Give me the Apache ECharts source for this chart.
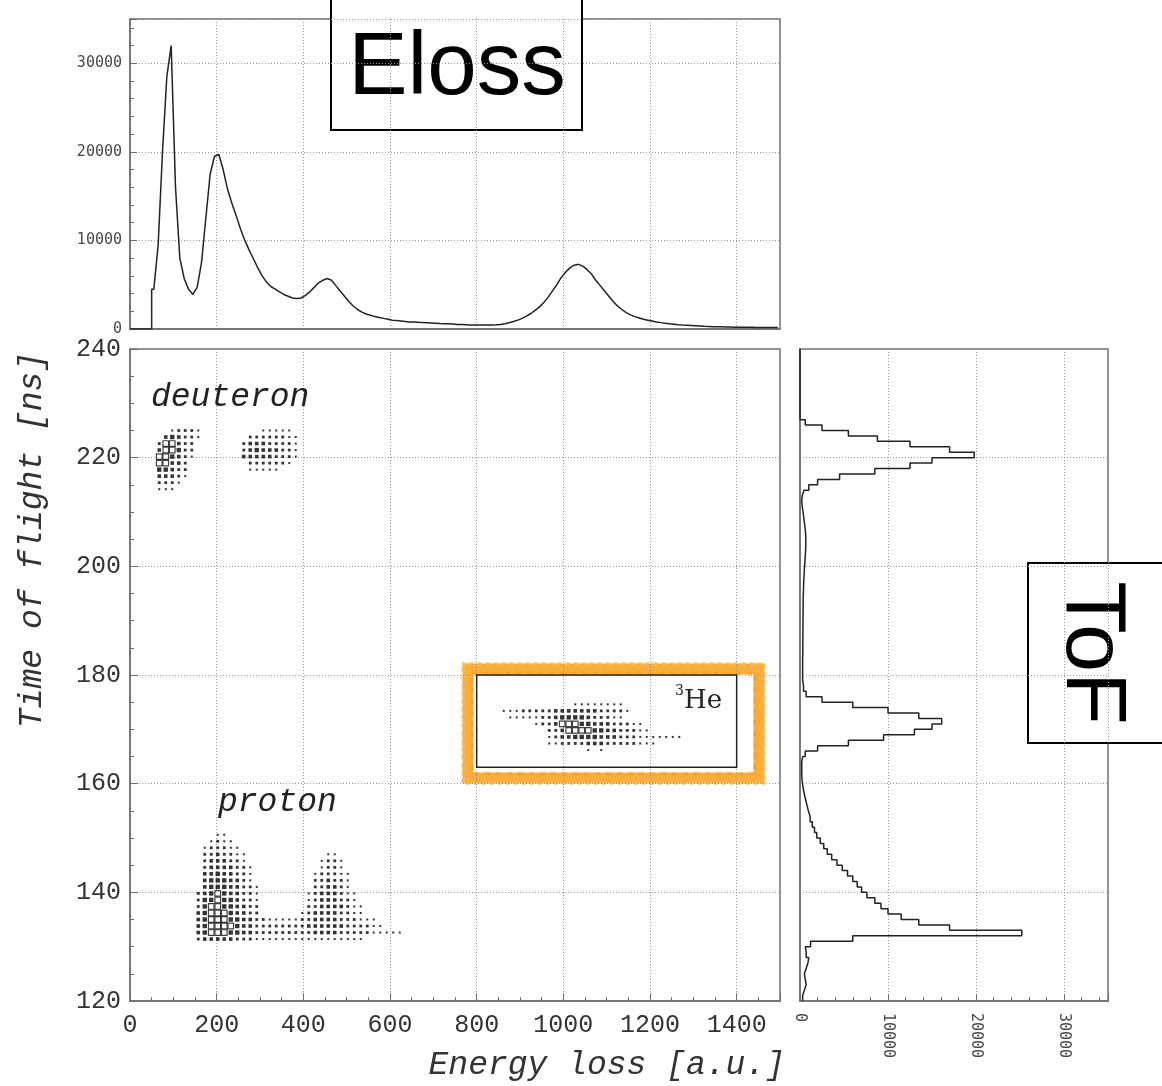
<!DOCTYPE html>
<html>
<head>
<meta charset="utf-8">
<script src="https://cdn.jsdelivr.net/npm/echarts@6/dist/echarts.min.js"></script>
<style>
  html, body { margin: 0; padding: 0; background: #fff; }
  #chart { width: 1162px; height: 1086px; }
</style>
</head>
<body>
<div id="chart"></div>
<script>
// ---- binning of the 2D ToF vs energy-loss histogram ----
const E_BIN = 15;        // energy-loss bin width [a.u.]
const TOF_BIN = 1.2;     // time-of-flight bin width [ns]
const TOF_MIN = 120;

// ---- axis ranges / ticks ----
const energyRange = [0, 1500];
const energyStep = 200;
const tofRange = [120, 240];
const tofStep = 20;
const countRange = [0, 35000];
const countStep = 10000;

// ---- energy-loss projection: 10 a.u. bins starting at 0 ----
const ELOSS_HIST_BIN = 10;
const elossCounts = [
  0, 0, 0, 0, 0, 4500, 9500, 20000, 28500, 32000,            // 0-99
  16000, 8000, 5700, 4500, 3900, 4700, 7500, 12500, 17500, 19500, // 100-199
  19700, 18000, 15800, 14200, 12800, 11300, 10000, 8900, 7900, 6900, // 200-299
  6000, 5300, 4800, 4500, 4200, 3900, 3700, 3500, 3450, 3500,  // 300-399
  3800, 4200, 4700, 5200, 5500, 5700, 5500, 4900, 4300, 3700,  // 400-499
  3100, 2600, 2200, 1900, 1700, 1550, 1400, 1300, 1200, 1100,  // 500-599
  1000, 950, 900, 850, 800, 800, 760, 720, 700, 680,           // 600-699
  650, 620, 600, 580, 560, 520, 500, 480, 460, 450,            // 700-799
  450, 440, 440, 460, 480, 520, 600, 700, 850, 1000,           // 800-899
  1200, 1450, 1750, 2100, 2500, 3000, 3600, 4300, 5000, 5800,  // 900-999
  6400, 6900, 7200, 7300, 7100, 6700, 6200, 5500, 4900, 4300,  // 1000-1099
  3700, 3100, 2600, 2200, 1850, 1600, 1400, 1250, 1100, 1000,  // 1100-1199
  900, 800, 720, 650, 590, 540, 490, 450, 420, 390,            // 1200-1299
  360, 330, 300, 280, 260, 250, 240, 230, 220, 210,            // 1300-1399
  200, 195, 190, 185, 180, 175, 170, 170, 170, 170             // 1400-1499
];

// ---- time-of-flight projection: 1 ns bins starting at 120 ns ----
const TOF_HIST_BIN = 1;
const tofCounts = [
  300, 500, 700, 600, 500, 700, 900, 1000, 700, 600,           // 120-129
  1200, 6000, 25200, 17000, 13500, 11500, 10000, 9200, 8500, 7600, // 130-139
  7000, 6500, 6000, 5400, 4800, 4200, 3600, 3100, 2700, 2300,  // 140-149
  1900, 1650, 1400, 1150, 950, 800, 650, 500, 380, 280,        // 150-159
  220, 200, 200, 200, 300, 600, 2000, 5500, 9500, 13000,       // 160-169
  15000, 16100, 13500, 10000, 6000, 2500, 700, 400, 300, 300,  // 170-179
  300, 300, 300, 320, 320, 320, 330, 330, 340, 340,            // 180-189
  350, 350, 360, 360, 380, 400, 420, 450, 480, 520,            // 190-199
  560, 600, 640, 660, 660, 640, 580, 500, 420, 350,            // 200-209
  250, 200, 250, 450, 1000, 2000, 4500, 8500, 12500, 15000,    // 210-219
  19800, 17000, 12500, 8800, 5500, 2500, 600, 0, 0, 0,         // 220-229
  0, 0, 0, 0, 0, 0, 0, 0, 0, 0                                 // 230-239
];

// ---- 2D cells: [ToF bin, first energy bin, occupancy levels per bin ('.' = empty)] ----
const deuteronRows = [
  [87, 6, '12221'],
  [86, 5, '343221'],
  [85, 4, '255322'],
  [84, 4, '355422'],
  [83, 4, '554321'],
  [82, 4, '55332'],
  [81, 4, '44322'],
  [80, 4, '33321'],
  [79, 4, '2221'],
  [78, 4, '111'],
  [87, 20, '11111'],
  [86, 18, '22222211'],
  [85, 17, '233322221'],
  [84, 17, '234333221'],
  [83, 17, '333332221'],
  [82, 18, '2222221'],
  [81, 18, '11111']
];

const protonRows = [
  [25, 13, '11'],
  [24, 12, '1211'],
  [23, 11, '122211'],
  [22, 11, '2232211'],
  [21, 11, '2333221'],
  [20, 11, '23333221'],
  [19, 11, '33433221'],
  [18, 11, '34443321'],
  [17, 11, '344433221'],
  [16, 10, '2345433221'],
  [15, 10, '2445443221'],
  [14, 10, '2455443322'],
  [13, 10, '3455543322'],
  [12, 10, '3455544332211111223333222111'],
  [11, 10, '34555543322222222333333222211'],
  [10, 10, '34555443322222222233332222211111'],
  [9, 10, '23333322211111111111111111'],
  [22, 30, '11'],
  [21, 29, '1221'],
  [20, 29, '1221'],
  [19, 28, '122211'],
  [18, 28, '223221'],
  [17, 28, '223321'],
  [16, 27, '12333211'],
  [15, 27, '12333221'],
  [14, 27, '223333211'],
  [13, 26, '1233332211']
];

const he3Rows = [
  [45, 68, '11111111'],
  [44, 57, '11122222333333322221'],
  [43, 58, '111112234444322211'],
  [42, 62, '12235554433322211'],
  [41, 64, '2235555443322211'],
  [40, 64, '123344443332221111111'],
  [39, 64, '11222233322222111'],
  [38, 70, '1.1']
];

// selection window drawn around the 3He group [a.u., ns]
const he3Window = { e: [800, 1400], tof: [163, 180] };

// ---- helpers ----
function toCells(rows) {
  const out = [];
  rows.forEach(([j, i0, levels]) => {
    for (let k = 0; k < levels.length; k++) {
      const c = levels[k];
      if (c === '.') continue;
      out.push([(i0 + k + 0.5) * E_BIN, TOF_MIN + (j + 0.5) * TOF_BIN, Number(c)]);
    }
  });
  return out;
}

// energy-loss projection drawn through the bin centres; empty leading bins stay on the axis
function centresAlongX(counts, width, start) {
  const pts = [[start, 0]];
  counts.forEach((v, k) => {
    if (v > 0 && k > 0 && counts[k - 1] === 0) pts.push([start + k * width, 0], [start + k * width, v]);
    pts.push([start + (k + 0.5) * width, v]);
  });
  return pts;
}

// ToF projection drawn as a step histogram along the vertical axis
function stepAlongY(counts, width, start) {
  const pts = [];
  counts.forEach((v, k) => {
    pts.push([v, start + k * width]);
    pts.push([v, start + (k + 1) * width]);
  });
  return pts;
}

const allCells = toCells(deuteronRows).concat(toCells(protonRows), toCells(he3Rows));
const filledCells = allCells.filter(c => c[2] < 5);
const boxCells = allCells.filter(c => c[2] >= 5);
const dotSize = [0, 2.0, 2.8, 3.6, 4.4, 5.6];

// ---- shared styles ----
const frameColor = '#6f6f6f';
const plain = v => String(v);
const gridLine = { show: true, lineStyle: { color: '#9a9a9a', width: 1, type: [1, 2] } };
const monoLabel = { fontFamily: 'Liberation Mono', fontSize: 25, color: '#333', formatter: plain };
const smallLabel = { fontFamily: 'DejaVu Sans Mono', fontSize: 15, color: '#4a4a4a', formatter: plain };

const chart = echarts.init(document.getElementById('chart'), null, { renderer: 'canvas' });

const option = {
  backgroundColor: '#fff',
  animation: false,
  grid: [
    { left: 130, top: 349, width: 650, height: 652, show: true, borderColor: frameColor, borderWidth: 1.5, outerBoundsMode: 'none' },
    { left: 130, top: 19, width: 650, height: 310, show: true, borderColor: frameColor, borderWidth: 1.5, outerBoundsMode: 'none' },
    { left: 800, top: 349, width: 308, height: 652, show: true, borderColor: frameColor, borderWidth: 1.5, outerBoundsMode: 'none' }
  ],
  xAxis: [
    {
      gridIndex: 0, type: 'value', min: energyRange[0], max: energyRange[1], interval: energyStep,
      axisLine: { show: true, lineStyle: { color: frameColor, width: 1.5 } },
      axisTick: { show: true, inside: true, length: 8, lineStyle: { color: frameColor } },
      minorTick: { show: true, splitNumber: 4, length: 4, lineStyle: { color: frameColor } },
      axisLabel: Object.assign({ margin: 12, showMaxLabel: false }, monoLabel),
      splitLine: gridLine
    },
    {
      gridIndex: 1, type: 'value', min: energyRange[0], max: energyRange[1], interval: energyStep,
      axisLine: { show: true, lineStyle: { color: frameColor, width: 1.5 } },
      axisTick: { show: false }, axisLabel: { show: false },
      splitLine: gridLine
    },
    {
      gridIndex: 2, type: 'value', min: countRange[0], max: countRange[1], interval: countStep,
      axisLine: { show: true, lineStyle: { color: frameColor, width: 1.5 } },
      axisTick: { show: true, inside: true, length: 7, lineStyle: { color: frameColor } },
      minorTick: { show: true, splitNumber: 5, length: 4, lineStyle: { color: frameColor } },
      axisLabel: Object.assign({ rotate: -90, margin: 12, showMaxLabel: false }, smallLabel),
      splitLine: gridLine
    }
  ],
  yAxis: [
    {
      gridIndex: 0, type: 'value', min: tofRange[0], max: tofRange[1], interval: tofStep,
      axisLine: { show: true, lineStyle: { color: frameColor, width: 1.5 } },
      axisTick: { show: true, inside: true, length: 8, lineStyle: { color: frameColor } },
      minorTick: { show: true, splitNumber: 4, length: 4, lineStyle: { color: frameColor } },
      axisLabel: Object.assign({ margin: 9 }, monoLabel),
      splitLine: gridLine
    },
    {
      gridIndex: 1, type: 'value', min: countRange[0], max: countRange[1], interval: countStep,
      axisLine: { show: true, lineStyle: { color: frameColor, width: 1.5 } },
      axisTick: { show: true, inside: true, length: 7, lineStyle: { color: frameColor } },
      minorTick: { show: true, splitNumber: 5, length: 4, lineStyle: { color: frameColor } },
      axisLabel: Object.assign({ margin: 8, showMaxLabel: false }, smallLabel),
      splitLine: gridLine
    },
    {
      gridIndex: 2, type: 'value', min: tofRange[0], max: tofRange[1], interval: tofStep,
      axisLine: { show: true, lineStyle: { color: frameColor, width: 1.5 } },
      axisTick: { show: false }, axisLabel: { show: false },
      splitLine: gridLine
    }
  ],
  series: [
    {
      name: 'cells', type: 'scatter', xAxisIndex: 0, yAxisIndex: 0,
      symbol: 'rect', symbolSize: v => dotSize[v[2]],
      itemStyle: { color: '#111', opacity: 0.85 },
      data: filledCells,
      markArea: {
        silent: true,
        itemStyle: { color: 'rgba(0,0,0,0)', borderColor: '#222', borderWidth: 1.5 },
        data: [[{ coord: [he3Window.e[0], he3Window.tof[1]] }, { coord: [he3Window.e[1], he3Window.tof[0]] }]]
      }
    },
    {
      name: 'dense cells', type: 'scatter', xAxisIndex: 0, yAxisIndex: 0,
      symbol: 'rect', symbolSize: v => dotSize[v[2]],
      itemStyle: { color: '#fff', borderColor: '#111', borderWidth: 1.2 },
      data: boxCells
    },
    {
      name: 'Eloss', type: 'line', xAxisIndex: 1, yAxisIndex: 1,
      showSymbol: false, lineStyle: { color: '#222', width: 1.5 },
      data: centresAlongX(elossCounts, ELOSS_HIST_BIN, 0)
    },
    {
      name: 'ToF', type: 'line', xAxisIndex: 2, yAxisIndex: 2,
      showSymbol: false, lineStyle: { color: '#222', width: 1.5 },
      data: stepAlongY(tofCounts, TOF_HIST_BIN, TOF_MIN)
    }
  ],
  graphic: [
    // axis titles
    {
      type: 'text', x: 785, y: 1065, z: 50,
      style: { text: 'Energy loss [a.u.]', fontFamily: 'Liberation Mono', fontStyle: 'italic', fontSize: 33, fill: '#333', align: 'right', verticalAlign: 'middle' }
    },
    {
      type: 'text', x: 32, y: 540, rotation: Math.PI / 2, z: 50,
      style: { text: 'Time of flight [ns]', fontFamily: 'Liberation Mono', fontStyle: 'italic', fontSize: 33, fill: '#333', align: 'center', verticalAlign: 'middle' }
    },
    // particle labels
    {
      type: 'text', x: 151, y: 397, z: 50,
      style: { text: 'deuteron', fontFamily: 'Liberation Mono', fontStyle: 'italic', fontSize: 33, fill: '#222', align: 'left', verticalAlign: 'middle' }
    },
    {
      type: 'text', x: 218, y: 802, z: 50,
      style: { text: 'proton', fontFamily: 'Liberation Mono', fontStyle: 'italic', fontSize: 33, fill: '#222', align: 'left', verticalAlign: 'middle' }
    },
    {
      type: 'text', x: 675, y: 691, z: 50,
      style: { text: '3', fontFamily: 'DejaVu Serif', fontSize: 14, fill: '#222', align: 'left', verticalAlign: 'middle' }
    },
    {
      type: 'text', x: 684, y: 701, z: 50,
      style: { text: 'He', fontFamily: 'DejaVu Serif', fontSize: 26, fill: '#222', align: 'left', verticalAlign: 'middle' }
    },
    // highlighted selection frame
    {
      type: 'group', z: 60,
      children: [
        { type: 'rect', shape: { x: 468, y: 669, width: 291, height: 109 }, style: { fill: 'none', stroke: '#F9AD3A', lineWidth: 11 } },
        { type: 'rect', shape: { x: 464, y: 665, width: 299, height: 117 }, style: { fill: 'none', stroke: '#FBB447', lineWidth: 3, lineDash: [7, 4] } },
        { type: 'rect', shape: { x: 472, y: 673, width: 283, height: 101 }, style: { fill: 'none', stroke: '#F7A42E', lineWidth: 3, lineDash: [5, 6] } },
        { type: 'rect', shape: { x: 462, y: 663, width: 303, height: 121 }, style: { fill: 'none', stroke: '#FCC066', lineWidth: 1.5, lineDash: [3, 5] } }
      ]
    },
    // projection tags
    {
      type: 'group', z: 70,
      children: [
        { type: 'rect', shape: { x: 331, y: -4, width: 251, height: 134 }, style: { fill: '#fff', stroke: '#000', lineWidth: 2 } },
        { type: 'text', x: 457, y: 69, style: { text: 'Eloss', fontFamily: 'Liberation Sans', fontSize: 89, fill: '#000', align: 'center', verticalAlign: 'middle' } }
      ]
    },
    {
      type: 'group', z: 70,
      children: [
        { type: 'rect', shape: { x: 1028, y: 563, width: 140, height: 180 }, style: { fill: '#fff', stroke: '#000', lineWidth: 2 } },
        { type: 'text', x: 1091, y: 653, rotation: -Math.PI / 2, style: { text: 'ToF', fontFamily: 'Liberation Sans', fontSize: 86, fill: '#000', align: 'center', verticalAlign: 'middle' } }
      ]
    }
  ]
};

chart.setOption(option);
</script>
</body>
</html>
